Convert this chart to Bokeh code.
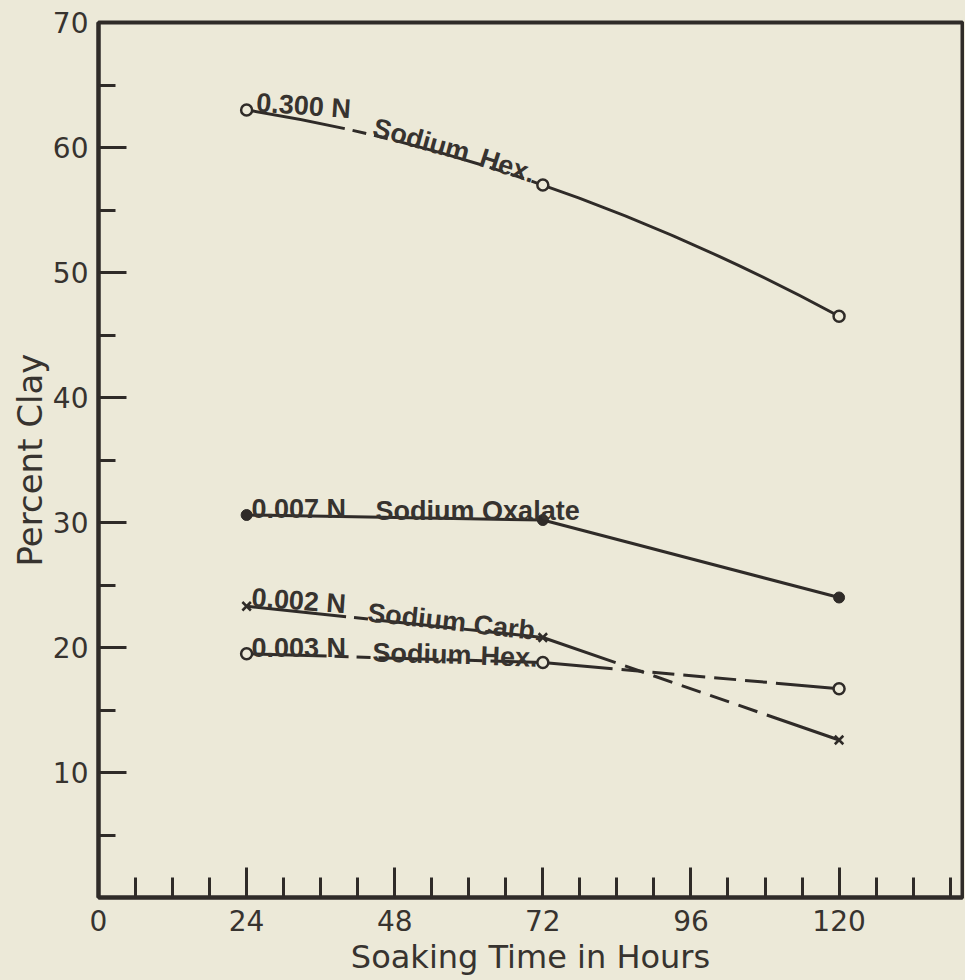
from bokeh.plotting import figure
from bokeh.models import FixedTicker, Label, Range1d
from bokeh.embed import file_html
from bokeh.resources import INLINE

# ---- data ----
hours = [24, 72, 120]
hex_0300 = [63.0, 57.0, 46.5]      # 0.300 N Sodium Hex.
oxalate_0007 = [30.6, 30.2, 24.0]  # 0.007 N Sodium Oxalate
carb_0002 = [23.3, 20.8, 12.6]     # 0.002 N Sodium Carb.
hex_0003 = [19.5, 18.8, 16.7]      # 0.003 N Sodium Hex.

x_ticks = [0, 24, 48, 72, 96, 120]
x_minor = [6, 12, 18, 30, 36, 42, 54, 60, 66, 78, 84, 90, 102, 108, 114, 126, 132, 138]
y_ticks = [10, 20, 30, 40, 50, 60, 70]
y_minor = [5, 15, 25, 35, 45, 55, 65]

# label pieces: text, hour, percent, angle (deg)
label_text = ["0.300 N", "Sodium", "Hex.",
              "0.007 N", "Sodium Oxalate",
              "0.002 N", "Sodium", "Carb.",
              "0.003 N", "Sodium", "Hex."]
label_x = [25.6, 44.6, 61.9,
           24.8, 44.9,
           24.8, 43.6, 60.8,
           24.8, 44.4, 61.9]
label_y = [63.6, 61.65, 59.25,
           31.05, 30.95,
           24.0, 22.8, 21.85,
           19.98, 19.6, 19.33]
label_angle = [-4, -15.5, -18,
               0, 0,
               -4, -6, -6,
               0, -1.5, -2]

# ---- style ----
paper = "#ece9d8"
ink = "#2f2b28"
text_ink = "#37332f"

p = figure(width=964, height=979, x_range=Range1d(0, 140), y_range=Range1d(0, 70),
           output_backend="svg", toolbar_location=None,
           min_border_left=98, min_border_top=22, min_border_right=2, min_border_bottom=82)
p.background_fill_color = paper
p.border_fill_color = paper
p.grid.visible = False
p.outline_line_color = ink
p.outline_line_width = 4
p.outline_line_alpha = 1.0

xa = p.xaxis[0]
ya = p.yaxis[0]
xa.ticker = FixedTicker(ticks=x_ticks, minor_ticks=x_minor)
ya.ticker = FixedTicker(ticks=y_ticks, minor_ticks=y_minor)
for ax in (xa, ya):
    ax.axis_line_color = ink
    ax.axis_line_width = 4
    ax.major_tick_line_color = ink
    ax.minor_tick_line_color = ink
    ax.major_tick_line_width = 3
    ax.minor_tick_line_width = 3
    ax.major_tick_out = 0
    ax.minor_tick_out = 0
    ax.major_label_text_font = "DejaVu Sans"
    ax.major_label_text_font_size = "28px"
    ax.major_label_text_color = text_ink
    ax.axis_label_text_font = "DejaVu Sans"
    ax.axis_label_text_font_style = "normal"
    ax.axis_label_text_color = text_ink
xa.axis_label_text_font_size = "32px"
ya.axis_label_text_font_size = "34px"
xa.major_tick_in = 30
xa.minor_tick_in = 20
ya.major_tick_in = 28
ya.minor_tick_in = 17
xa.major_label_standoff = 12
ya.major_label_standoff = 10
xa.axis_label_standoff = 4
ya.axis_label_standoff = 0
xa.axis_label = "Soaking Time in Hours"
ya.axis_label = "Percent Clay"

# ---- 0.300 N: smooth curve through its three points (quadratic, passes through the middle point)
ctrl_y = 2 * hex_0300[1] - (hex_0300[0] + hex_0300[2]) / 2
p.quadratic(x0=[hours[0]], y0=[hex_0300[0]], x1=[hours[2]], y1=[hex_0300[2]],
            cx=[hours[1]], cy=[ctrl_y], line_color=ink, line_width=3,
            line_dash="100 8 14 8 14 8 90 8 14 8 14 8 1000")

# ---- other series: two segments each
series = [
    (oxalate_0007, "solid", "solid"),
    (carb_0002, "100 8 14 8 80 8 14 8 400", "77 10 20 10 20 10 20 10 20 10 20 10 400"),
    (hex_0003, "80 8 14 8 14 8 60 8 14 8 14 8 400", "70 9 22 9 22 9 22 9 22 9 22 9 400"),
]
for vals, d1, d2 in series:
    p.line(hours[0:2], vals[0:2], line_color=ink, line_width=3, line_dash=d1)
    p.line(hours[1:3], vals[1:3], line_color=ink, line_width=3, line_dash=d2)

p.scatter(hours, hex_0300, marker="circle", size=11, line_color=ink, line_width=2.5, fill_color=paper)
p.scatter(hours, hex_0003, marker="circle", size=11, line_color=ink, line_width=2.5, fill_color=paper)
p.scatter(hours, oxalate_0007, marker="circle", size=11, line_color=ink, line_width=1, fill_color=ink)
p.scatter(hours, carb_0002, marker="x", size=12, line_color=ink, line_width=2.5)

for t, x, y, a in zip(label_text, label_x, label_y, label_angle):
    p.add_layout(Label(x=x, y=y, text=t, angle=a, angle_units="deg",
                       text_font="Liberation Sans", text_font_size="27px", text_font_style="bold",
                       text_color=text_ink, text_align="left", text_baseline="alphabetic"))

html = file_html(p, INLINE)
html = html.replace("<head>", "<head><style>html,body{margin:0;padding:0;background:%s;}</style>" % paper, 1)
open("out.html", "w").write(html)
